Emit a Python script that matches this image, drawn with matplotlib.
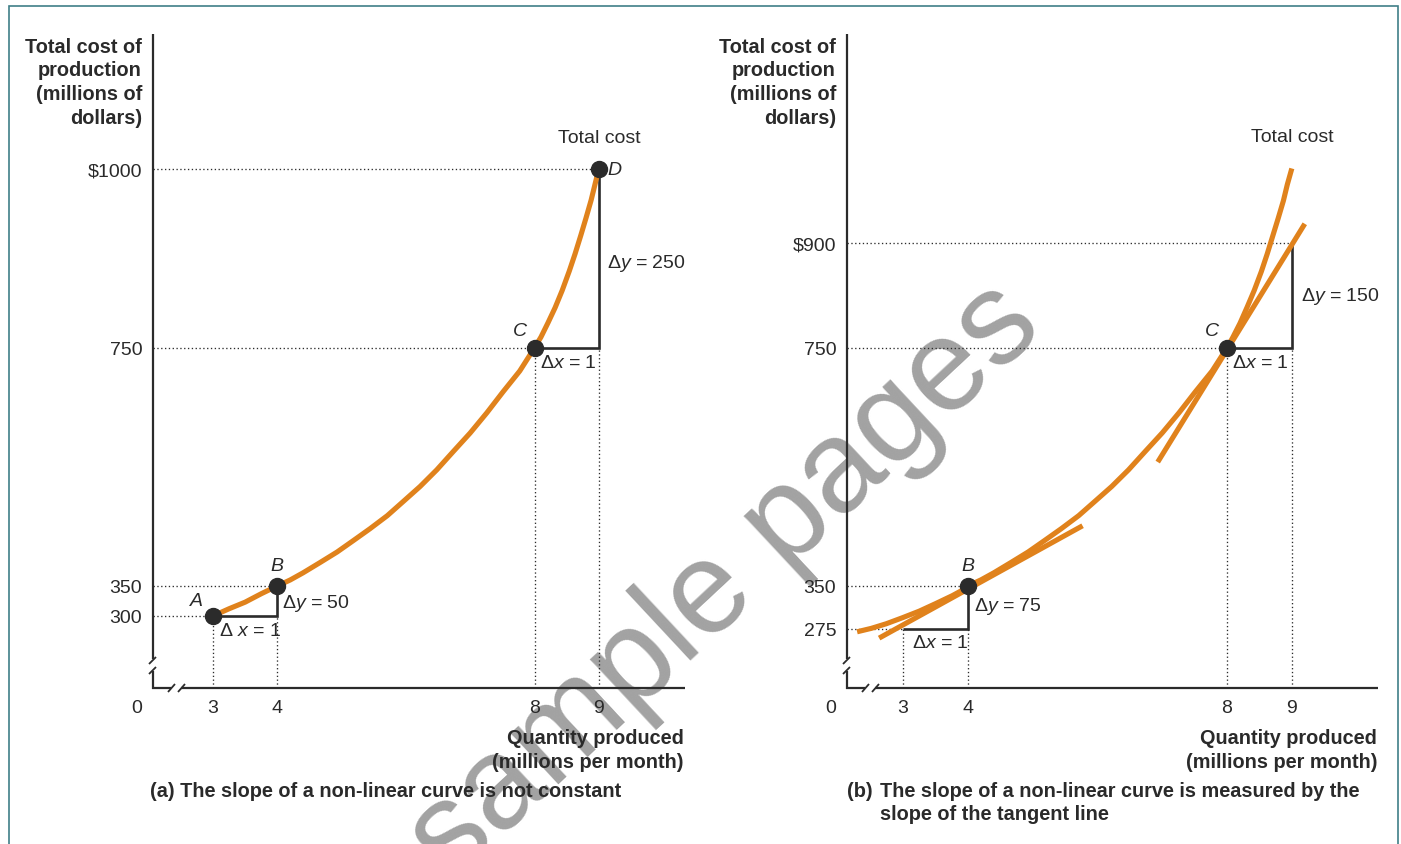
import numpy as np
import matplotlib
matplotlib.use("Agg")
import matplotlib.pyplot as plt
from matplotlib.lines import Line2D
from matplotlib.patches import Rectangle
from matplotlib.transforms import IdentityTransform

plt.rcParams['font.family'] = ['Liberation Sans', 'DejaVu Sans']
plt.rcParams['mathtext.fontset'] = 'custom'
plt.rcParams['mathtext.rm'] = 'Liberation Sans'
plt.rcParams['mathtext.it'] = 'Liberation Sans:italic'

# ---------------- data ----------------
# Panel (a): total cost curve
curve_a_x = [3, 3.25, 3.5, 3.75, 4, 4.20, 4.40, 4.66, 4.93, 5.18, 5.44, 5.71, 5.95, 6.22,
             6.48, 6.73, 7.0, 7.26, 7.51, 7.77, 8, 8.10, 8.21, 8.32, 8.43, 8.54, 8.63,
             8.72, 8.80, 8.88, 8.94, 9]
curve_a_y = [300, 312, 323, 337, 350, 360, 372, 389, 407, 426, 446, 468, 491, 517,
             545, 575, 607, 641, 676, 711, 750, 765, 785, 806, 830, 857, 881,
             907, 931, 956, 978, 1000]
points_a_x = [3, 4, 8, 9]
points_a_y = [300, 350, 750, 1000]
points_a_labels = ['A', 'B', 'C', 'D']
yticks_a = [300, 350, 750, 1000]
yticklabels_a = ['300', '350', '750', '$1000']

# Panel (b)
curve_b_x = [2.29, 2.51, 2.74, 2.99, 3.25, 3.50, 3.76, 3.89, 4, 4.20, 4.40, 4.66, 4.93,
             5.18, 5.44, 5.71, 5.95, 6.22, 6.48, 6.73, 7.0, 7.26, 7.51, 7.77, 8,
             8.09, 8.20, 8.31, 8.42, 8.53, 8.62, 8.71, 8.79, 8.87, 8.93, 9.0]
curve_b_y = [270, 276, 284, 294.5, 306, 319, 333, 341, 350, 360, 372, 389, 407,
             426, 446, 468, 491, 517, 545, 575, 607, 641, 676, 711, 750,
             765, 785, 808, 832, 859, 884, 911, 935, 960, 983, 1006]
tangent_B_x = [2.63, 5.77]
tangent_B_y = [259, 451]
tangent_C_x = [6.93, 9.20]
tangent_C_y = [558, 927]
points_b_x = [4, 8]
points_b_y = [350, 750]
points_b_labels = ['B', 'C']
yticks_b = [275, 350, 750, 900]
yticklabels_b = ['275', '350', '750', '$900']

xticks = [3, 4, 8, 9]
xticklabels = ['3', '4', '8', '9']

ylabel_lines = ['Total cost of', 'production', '(millions of', 'dollars)']
xlabel_lines = ['Quantity produced', '(millions per month)']
caption_a = '(a) The slope of a non-linear curve is not constant'
caption_b_tag = '(b)'
caption_b_lines = ['The slope of a non-linear curve is measured by the',
                   'slope of the tangent line']
watermark = 'sample pages'

# ---------------- styling ----------------
W, H = 1401, 845
ORANGE = '#E0821C'
DARK = '#2b2b2b'
TXT = '#2a2a2a'
FS = 14
FSB = 14.3

fig = plt.figure(figsize=(W / 100, H / 100), dpi=100)
ID = IdentityTransform()


def add_axes_px(l, t, r, b):
    return fig.add_axes([l / W, (H - b) / H, (r - l) / W, (b - t) / H])


def piecewise(vals, pos):
    vals = np.asarray(vals, float)
    pos = np.asarray(pos, float)
    s0 = (pos[1] - pos[0]) / (vals[1] - vals[0])
    s1 = (pos[-1] - pos[-2]) / (vals[-1] - vals[-2])

    def fwd(v):
        v = np.asarray(v, float)
        out = np.interp(v, vals, pos)
        out = np.where(v < vals[0], pos[0] + (v - vals[0]) * s0, out)
        out = np.where(v > vals[-1], pos[-1] + (v - vals[-1]) * s1, out)
        return out

    def inv(p):
        p = np.asarray(p, float)
        out = np.interp(p, pos, vals)
        out = np.where(p < pos[0], vals[0] + (p - pos[0]) / s0, out)
        out = np.where(p > pos[-1], vals[-1] + (p - pos[-1]) / s1, out)
        return out

    return fwd, inv


def px_line(xs, ys, lw=1.6, color=DARK):
    fig.add_artist(Line2D(xs, [H - y for y in ys], transform=ID,
                          lw=lw, color=color, solid_capstyle='butt'))


def px_text(x, baseline, s, ha='left', bold=True, fs=FSB):
    fig.text(x, H - baseline, s, transform=ID, ha=ha, va='baseline', fontsize=fs,
             fontweight='bold' if bold else 'normal', color=TXT)


def lab(ax, text, xy, dx, dy, ha='left', va='center', **kw):
    ax.annotate(text, xy=xy, xytext=(dx, dy), textcoords='offset pixels',
                ha=ha, va=va, fontsize=FS, color=TXT, annotation_clip=False, **kw)


# frame
fig.add_artist(Rectangle((9 / W, -0.05), (1398 - 9) / W, (H - 7) / H + 0.05,
                         transform=fig.transFigure, fill=False, ec='#3f7f88', lw=1.2))

# watermark (behind everything)
fig.text(725 / W, 1 - 582 / H, watermark, rotation=43, fontsize=94, color='#a2a2a2',
         ha='center', va='center', zorder=-5)


def setup(ax, ylims, xlims, yt, ytl, knots_v, knots_p):
    fwd, inv = piecewise(knots_v, knots_p)
    ax.set_yscale('function', functions=(fwd, inv))
    ax.set_xlim(*xlims)
    ax.set_ylim(*ylims)
    ax.patch.set_alpha(0)
    for s in ax.spines.values():
        s.set_visible(False)
    ax.set_xticks(xticks)
    ax.set_xticklabels(xticklabels)
    ax.set_yticks(yt)
    ax.set_yticklabels(ytl)
    ax.minorticks_off()
    ax.tick_params(length=0, labelsize=FS, labelcolor=TXT)
    ax.tick_params(axis='x', pad=7.9)
    ax.tick_params(axis='y', pad=7.8)


def axes_lines(l, r, b=689, t=35):
    # y-axis with break
    px_line([l, l], [t, 660])
    px_line([l, l], [672, b + 0.8])
    px_line([l - 4, l + 3], [665, 658], lw=1.3)
    px_line([l - 4, l + 3], [675, 668], lw=1.3)
    # x-axis with break
    px_line([l - 0.8, l + 18], [b, b])
    px_line([l + 28, r], [b, b])
    px_line([l + 15, l + 22], [693, 685], lw=1.3)
    px_line([l + 25, l + 32], [693, 685], lw=1.3)


def titles(l, r):
    for i, s in enumerate(ylabel_lines):
        px_text(l - 11, 52.7 + 23.7 * i, s, ha='right')
    for i, s in enumerate(xlabel_lines):
        px_text(r - 1, 744.3 + 23.5 * i, s, ha='right')
    px_text(l - 16, 713.3, '0', ha='center', bold=False, fs=FS)


dot_kw = dict(color=DARK, lw=0.95, linestyle=(0, (1, 1.9)), zorder=2)
tri_kw = dict(color=DARK, lw=1.9, zorder=3, solid_capstyle='butt', solid_joinstyle='miter')
curve_kw = dict(color=ORANGE, lw=3.7, zorder=4, solid_capstyle='butt', solid_joinstyle='round')
pt_kw = dict(marker='o', ms=11.5, color=DARK, ls='none', zorder=6)

# ---------------- panel (a) ----------------
axA = add_axes_px(153, 35, 685, 689)
setup(axA, (180, 1188), (2.067, 10.34), yticks_a, yticklabels_a,
      [300, 350, 750, 1000], [228, 258, 496, 675])
axes_lines(153, 685)
titles(153, 685)
x0a, y0a = 2.067, 180
for xv, yv in zip(points_a_x, points_a_y):
    axA.hlines(yv, x0a, xv, **dot_kw)
axA.vlines(3, y0a, 300, **dot_kw)
axA.vlines(4, y0a, 300, **dot_kw)
axA.vlines(8, y0a, 750, **dot_kw)
axA.vlines(9, y0a, 750, **dot_kw)
axA.plot([3, 4, 4], [300, 300, 350], **tri_kw)
axA.plot([8, 9, 9], [750, 750, 1000], **tri_kw)
axA.plot(curve_a_x, curve_a_y, **curve_kw)
axA.plot(points_a_x, points_a_y, **pt_kw)

lab(axA, 'A', (3, 300), -17, 15, ha='center', style='italic')
lab(axA, 'B', (4, 350), 0, 20, ha='center', style='italic')
lab(axA, 'C', (8, 750), -15, 17, ha='center', style='italic')
lab(axA, 'D', (9, 1000), 9, -1, ha='left', style='italic')
lab(axA, 'Total cost', (9, 1000), 0, 31, ha='center')
lab(axA, 'Δ $x$ = 1', (3, 300), 6, -15)
lab(axA, 'Δ$y$ = 50', (4, 350), 5, -17)
lab(axA, 'Δ$y$ = 250', (9, 1000), 8, -94)
lab(axA, 'Δ$x$ = 1', (8, 750), 5, -15)

px_text(150, 796.7, caption_a)

# ---------------- panel (b) ----------------
axB = add_axes_px(847, 35, 1378, 689)
setup(axB, (172, 1198), (2.134, 10.33), yticks_b, yticklabels_b,
      [275, 350, 750, 900], [215, 258, 496, 601])
axes_lines(847, 1378)
titles(847, 1378)
x0b, y0b = 2.134, 172
axB.hlines(900, x0b, 9, **dot_kw)
axB.hlines(750, x0b, 8, **dot_kw)
axB.hlines(350, x0b, 4, **dot_kw)
axB.hlines(275, x0b, 3, **dot_kw)
axB.vlines(3, y0b, 275, **dot_kw)
axB.vlines(4, y0b, 275, **dot_kw)
axB.vlines(8, y0b, 750, **dot_kw)
axB.vlines(9, y0b, 750, **dot_kw)
axB.plot([3, 4, 4], [275, 275, 350], **tri_kw)
axB.plot([8, 9, 9], [750, 750, 900], **tri_kw)
axB.plot(curve_b_x, curve_b_y, **curve_kw)
axB.plot(tangent_B_x, tangent_B_y, **curve_kw)
axB.plot(tangent_C_x, tangent_C_y, **curve_kw)
axB.plot(points_b_x, points_b_y, **pt_kw)

lab(axB, 'B', (4, 350), 0, 20, ha='center', style='italic')
lab(axB, 'C', (8, 750), -15, 17, ha='center', style='italic')
lab(axB, 'Total cost', (9, 1000), 0, 36, ha='center')
lab(axB, 'Δ$y$ = 75', (4, 350), 6, -20)
lab(axB, 'Δ$x$ = 1', (3, 275), 9, -14)
lab(axB, 'Δ$y$ = 150', (9, 750), 9, 52)
lab(axB, 'Δ$x$ = 1', (8, 750), 5, -15)

px_text(847, 797, caption_b_tag)
for i, s in enumerate(caption_b_lines):
    px_text(880, 797 + 23.3 * i, s)

fig.savefig('out.png', dpi=100)
